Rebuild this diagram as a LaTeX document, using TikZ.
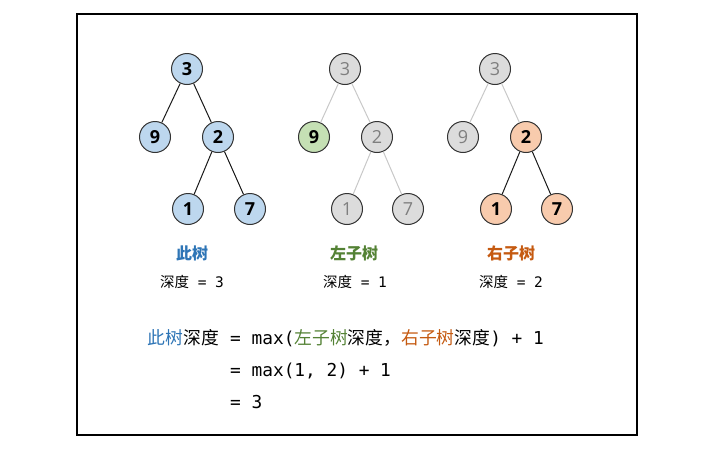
\documentclass[tikz,border=0pt]{standalone}
\usepackage{fontspec}
\setmainfont{Open Sans}
\setmonofont{DejaVu Sans Mono}
\newfontfamily\cjk{Noto Sans CJK SC}
\usetikzlibrary{positioning}

\definecolor{fillblue}{HTML}{BDD7EE}
\definecolor{fillgreen}{HTML}{C5E0B4}
\definecolor{fillorange}{HTML}{F8CBAD}
\definecolor{fillgrey}{HTML}{DCDCDC}
\definecolor{textgrey}{HTML}{7F7F7F}
\definecolor{linegrey}{HTML}{C8C8C8}
\definecolor{lblue}{HTML}{2E75B6}
\definecolor{lgreen}{HTML}{548235}
\definecolor{lorange}{HTML}{C55A11}

\tikzset{
  tnode/.style={circle, draw=black!80, line width=1pt, minimum size=31pt, inner sep=0pt,
    font=\fontsize{18}{18}\selectfont\bfseries},
  bnode/.style={tnode, fill=fillblue},
  gnode/.style={tnode, fill=fillgreen},
  onode/.style={tnode, fill=fillorange},
  fnode/.style={tnode, fill=fillgrey, text=textgrey, font=\fontsize{18}{18}\selectfont},
  tlink/.style={line width=1pt, draw=black!90},
  flink/.style={line width=1pt, draw=linegrey},
  title/.style={font=\fontsize{16}{16}\selectfont\cjk\bfseries, inner sep=0pt},
  depth/.style={font=\fontsize{14.5}{14.5}\selectfont\ttfamily, inner sep=0pt},
  formula/.style={font=\fontsize{17.8}{18}\selectfont\ttfamily, inner sep=0pt},
}

\begin{document}
\begin{tikzpicture}[x=1pt, y=-1pt]
    \useasboundingbox (0,0) rectangle (721,453);
    \draw[line width=1.5pt] (77,14) rectangle (637,435);

    % this tree
    \node[bnode] (a3) at (187,69)  {3};
    \node[bnode] (a9) at (155,137) {9};
    \node[bnode] (a2) at (218,137) {2};
    \node[bnode] (a1) at (188,209) {1};
    \node[bnode] (a7) at (250,209) {7};
    \draw[tlink] (a3) -- (a9);
    \draw[tlink] (a3) -- (a2);
    \draw[tlink] (a2) -- (a1);
    \draw[tlink] (a2) -- (a7);

    % left subtree
    \node[fnode] (b3) at (345,69)  {3};
    \node[gnode] (b9) at (314,137) {9};
    \node[fnode] (b2) at (377,137) {2};
    \node[fnode] (b1) at (347,209) {1};
    \node[fnode] (b7) at (408,209) {7};
    \draw[flink] (b3) -- (b9);
    \draw[flink] (b3) -- (b2);
    \draw[flink] (b2) -- (b1);
    \draw[flink] (b2) -- (b7);

    % right subtree
    \node[fnode] (c3) at (495,69)  {3};
    \node[fnode] (c9) at (463,137) {9};
    \node[onode] (c2) at (526,137) {2};
    \node[onode] (c1) at (496,209) {1};
    \node[onode] (c7) at (557,209) {7};
    \draw[flink] (c3) -- (c9);
    \draw[flink] (c3) -- (c2);
    \draw[tlink] (c2) -- (c1);
    \draw[tlink] (c2) -- (c7);

    \node[title, text=lblue]   (ta) at (192,253) {此树};
    \node[title, text=lgreen]  (tb) at (354,253) {左子树};
    \node[title, text=lorange] (tc) at (511,253) {右子树};
    \node[depth] (da) at (192,282) {{\cjk 深度} = 3};
    \node[depth] (db) at (355,282) {{\cjk 深度} = 1};
    \node[depth] (dc) at (511,282) {{\cjk 深度} = 2};

    % depth formula
    \node[formula, anchor=base west] (f1) at (230,344)
        {= max({\cjk\color{lgreen}左子树}{\cjk 深度，}{\cjk\color{lorange}右子树}{\cjk 深度}) + 1};
    \node[formula, anchor=base east] (f0) at (f1.base west)
        {{\cjk\color{lblue}此树}{\cjk 深度}\phantom{x}};
    \node[formula, anchor=base west] (f2) at (230,376) {= max(1, 2) + 1};
    \node[formula, anchor=base west] (f3) at (230,408) {= 3};
\end{tikzpicture}
\end{document}
